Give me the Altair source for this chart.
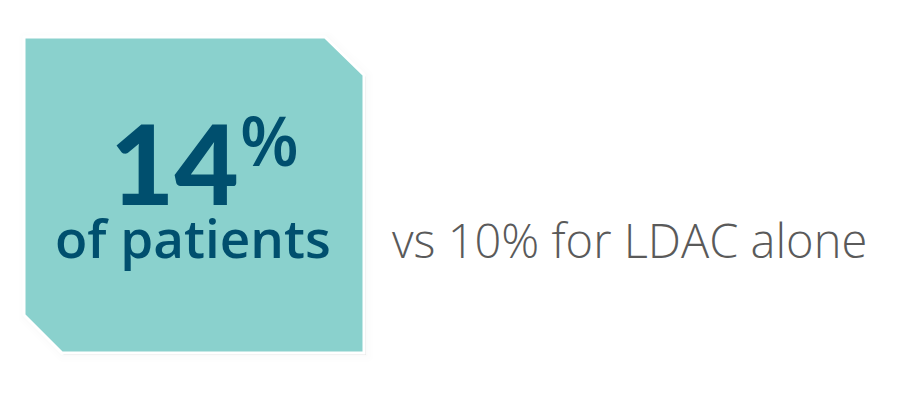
import altair as alt
import pandas as pd

# Shape outline (pixel coordinates of the reference graphic)
shape_x = [24, 62, 325, 364]
shape_top = [37, 37, 37, 75]
shape_bottom = [315, 353, 353, 353]

# Text labels
labels = ["14", "%", "of patients", "vs 10% for LDAC alone"]
label_x = [110, 240, 55, 392]
label_y = [205, 166, 258, 258]

W, H = 883, 396
xs = alt.Scale(domain=[8, 8 + W], nice=False, zero=False)
ys = alt.Scale(domain=[8, 8 + H], nice=False, zero=False, reverse=True)

shape_df = pd.DataFrame({"x": shape_x, "top": shape_top, "bottom": shape_bottom})
text_df = pd.DataFrame({"label": labels, "x": label_x, "y": label_y})

def area(dx=0, dy=0, **kw):
    d = shape_df.copy()
    d["x"] = d["x"] + dx
    d["top"] = d["top"] + dy
    d["bottom"] = d["bottom"] + dy
    return alt.Chart(d).mark_area(**kw).encode(
        x=alt.X("x:Q", scale=xs, axis=None),
        y=alt.Y("top:Q", scale=ys, axis=None),
        y2="bottom:Q",
    )

shadows = [
    area(2, 2, color="#000000", opacity=0.04, stroke="#000000", strokeWidth=14, strokeOpacity=0.04, strokeJoin="round"),
    area(2, 2, color="#000000", opacity=0.05, stroke="#000000", strokeWidth=9, strokeOpacity=0.06, strokeJoin="round"),
    area(1, 1, color="#000000", opacity=0.06, stroke="#000000", strokeWidth=5, strokeOpacity=0.08, strokeJoin="round"),
]
main = area(color="#8AD1CD", stroke="#FFFFFF", strokeWidth=3, strokeJoin="miter")

def txt(i, size, weight, color, font):
    d = text_df.iloc[[i]]
    return alt.Chart(d).mark_text(
        align="left", baseline="alphabetic", font=font,
        fontSize=size, fontWeight=weight, color=color,
    ).encode(
        x=alt.X("x:Q", scale=xs, axis=None),
        y=alt.Y("y:Q", scale=ys, axis=None),
        text="label:N",
    )

texts = [
    txt(0, 111, 900, "#004F6E", "Lato"),
    txt(1, 68, 600, "#004F6E", "Open Sans"),
    txt(2, 53, 600, "#004F6E", "Open Sans"),
    txt(3, 47, 300, "#5A5A5A", "Open Sans"),
]

chart = alt.layer(*shadows, main, *texts).properties(
    width=W, height=H, padding=0,
    autosize=alt.AutoSizeParams(type="none"),
).configure(
    background="#FFFFFF",
    view=alt.ViewConfig(strokeWidth=0, stroke="transparent"),
)

chart.save("out.html", embed_options={"renderer": "svg", "actions": False})
